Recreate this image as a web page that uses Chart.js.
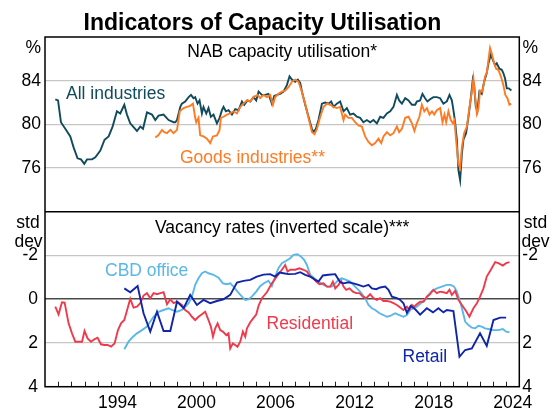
<!DOCTYPE html>
<html>
<head>
<meta charset="utf-8">
<script src="https://cdn.jsdelivr.net/npm/chart.js@4/dist/chart.umd.min.js"></script>
<style>
html,body{margin:0;padding:0;background:#fff;}
canvas{display:block;}
</style>
</head>
<body>
<canvas id="c" width="560" height="412"></canvas>
<script>
// ---------- DATA ----------
const yearLabels = ['1994', '2000', '2006', '2012', '2018', '2024'];
const topTicks = [76, 80, 84];
const bottomTicks = [-2, 0, 2, 4];

// NAB capacity utilisation, all industries (%)
const allIndDates = [1989.78,1989.99,1990.21,1990.54,1990.92,1991.17,1991.47,1991.73,1991.98,1992.19,1992.57,1992.82,1993.2,1993.52,1993.83,1994.13,1994.46,1994.71,1995.02,1995.22,1995.47,1995.98,1996.23,1996.44,1996.74,1997.12,1997.37,1997.62,1998.0,1998.38,1998.76,1998.89,1999.02,1999.27,1999.39,1999.64,1999.9,2000.08,2000.27,2000.4,2000.58,2000.73,2000.91,2001.03,2001.24,2001.41,2001.59,2001.79,2002.05,2002.25,2002.43,2002.55,2002.73,2002.93,2003.19,2003.44,2003.69,2003.95,2004.12,2004.37,2004.58,2004.83,2005.03,2005.21,2005.46,2005.71,2005.96,2006.22,2006.4,2006.6,2006.85,2007.1,2007.36,2007.56,2007.74,2007.99,2008.19,2008.37,2008.54,2008.75,2009.0,2009.26,2009.38,2009.56,2009.76,2010.02,2010.27,2010.52,2010.72,2010.9,2011.15,2011.4,2011.66,2011.91,2012.16,2012.41,2012.67,2012.92,2013.17,2013.43,2013.68,2013.93,2014.19,2014.44,2014.69,2014.95,2015.2,2015.45,2015.71,2015.88,2016.09,2016.34,2016.59,2016.85,2017.1,2017.22,2017.47,2017.65,2017.85,2018.03,2018.23,2018.48,2018.74,2018.99,2019.24,2019.5,2019.7,2019.88,2020.0,2020.13,2020.26,2020.38,2020.51,2020.64,2020.76,2020.96,2021.14,2021.32,2021.47,2021.57,2021.7,2021.82,2021.97,2022.15,2022.33,2022.53,2022.66,2022.84,2022.99,2023.17,2023.29,2023.49,2023.67,2023.79,2023.92,2024.05,2024.2,2024.4];
const allIndValues = [82.3,82.2,80.2,79.6,78.9,77.9,76.9,76.8,76.4,76.8,76.8,77.0,77.6,78.6,78.9,79.8,81.2,81.0,81.8,80.9,80.1,79.4,79.8,79.6,81.1,80.9,80.4,80.8,80.9,80.4,80.2,80.2,80.4,81.6,81.9,82.1,82.5,82.7,82.4,82.5,81.9,82.2,81.0,81.6,81.0,81.5,80.7,80.9,80.1,80.6,81.3,81.6,81.2,81.3,80.9,81.4,81.3,82.1,81.8,82.2,82.1,82.5,82.2,83.0,82.7,82.7,82.8,81.9,82.6,82.7,82.8,83.0,83.6,84.4,84.1,83.9,84.1,83.8,82.8,81.8,80.7,79.6,79.3,79.6,80.4,81.9,82.0,81.9,82.1,81.6,81.9,82.1,81.2,81.5,80.9,81.0,80.7,80.6,80.2,80.4,80.2,80.4,80.1,80.7,80.6,81.0,81.2,81.6,82.7,82.2,81.9,82.4,82.2,81.8,81.8,82.1,82.2,82.8,82.4,82.1,82.3,82.5,82.5,82.4,81.9,82.1,82.7,82.2,81.3,80.2,78.6,75.8,74.9,77.3,78.6,79.2,80.7,82.4,84.1,83.6,81.6,81.2,83.0,82.8,83.9,84.7,85.6,86.4,85.9,85.4,85.6,85.1,85.0,84.7,84.2,83.3,83.3,83.1];

// NAB capacity utilisation, goods industries (%)
const goodsDates = [1997.37,1997.6,1997.88,1998.05,1998.26,1998.51,1998.76,1999.02,1999.23,1999.52,1999.77,2000.02,2000.23,2000.4,2000.48,2000.65,2000.78,2001.03,2001.29,2001.54,2001.75,2002.05,2002.25,2002.35,2002.55,2002.81,2003.06,2003.31,2003.57,2003.82,2004.07,2004.33,2004.58,2004.83,2005.13,2005.33,2005.59,2005.84,2006.09,2006.3,2006.47,2006.72,2006.98,2007.23,2007.48,2007.74,2007.99,2008.24,2008.49,2008.75,2009.0,2009.26,2009.46,2009.64,2009.89,2010.14,2010.4,2010.65,2010.9,2011.15,2011.4,2011.66,2011.78,2012.03,2012.29,2012.54,2012.79,2013.05,2013.3,2013.55,2013.81,2014.06,2014.31,2014.52,2014.69,2014.95,2015.2,2015.45,2015.71,2015.88,2016.09,2016.34,2016.59,2016.85,2017.04,2017.22,2017.42,2017.6,2017.79,2017.99,2018.18,2018.37,2018.54,2018.74,2018.99,2019.17,2019.32,2019.45,2019.62,2019.8,2019.96,2020.08,2020.2,2020.38,2020.51,2020.64,2020.81,2021.02,2021.19,2021.4,2021.52,2021.65,2021.78,2021.9,2022.02,2022.2,2022.4,2022.53,2022.66,2022.78,2022.91,2023.09,2023.24,2023.41,2023.6,2023.79,2023.94,2024.1,2024.25,2024.38];
const goodsValues = [78.8,79.0,79.5,79.3,79.2,79.5,79.2,79.5,81.2,81.5,81.6,81.7,81.9,80.6,80.2,80.6,79.0,78.9,78.7,78.3,78.9,79.0,79.5,80.6,80.7,80.9,81.0,81.2,81.0,81.6,81.9,82.2,82.1,82.5,82.7,82.4,82.7,82.5,82.7,81.8,82.5,82.8,83.0,83.1,83.4,83.9,84.1,83.9,83.0,81.9,80.6,79.3,79.1,79.6,80.7,81.6,81.9,81.8,81.6,81.5,81.6,80.4,80.9,80.6,80.6,80.2,79.9,79.8,78.9,78.4,78.1,78.3,78.7,78.3,78.9,79.3,79.0,79.2,79.8,79.3,79.6,80.6,80.7,80.1,79.4,80.1,80.7,81.8,81.2,81.5,80.9,81.2,80.9,81.3,81.5,80.2,80.9,80.2,81.2,80.4,80.1,80.4,78.6,76.4,76.0,77.9,79.2,79.8,81.3,83.0,84.2,82.5,81.0,81.5,83.1,83.0,84.4,84.7,85.9,87.0,86.5,85.6,85.1,85.0,84.4,83.6,82.7,82.4,81.8,81.9];

// Vacancy rates, standard deviations (inverted scale)
const cbdDates = [1995.02,1995.34,1995.68,1995.98,1996.36,1996.74,1996.99,1997.24,1997.62,1998.0,1998.38,1998.64,1999.02,1999.39,1999.64,1999.9,2000.15,2000.4,2000.65,2000.91,2001.16,2001.41,2001.79,2002.17,2002.5,2002.81,2003.06,2003.31,2003.61,2003.95,2004.2,2004.45,2004.7,2005.03,2005.33,2005.59,2005.96,2006.22,2006.47,2006.72,2006.98,2007.23,2007.61,2007.86,2008.16,2008.42,2008.67,2008.88,2009.13,2009.43,2009.76,2010.14,2010.44,2010.77,2011.03,2011.28,2011.53,2011.86,2012.16,2012.54,2012.92,2013.3,2013.55,2013.81,2014.06,2014.39,2014.69,2014.95,2015.25,2015.58,2015.9,2016.21,2016.47,2016.72,2016.97,2017.22,2017.6,2017.85,2018.1,2018.37,2018.74,2019.12,2019.5,2019.8,2020.05,2020.26,2020.51,2020.71,2020.89,2021.14,2021.4,2021.65,2021.9,2022.15,2022.4,2022.66,2023.04,2023.41,2023.75,2024.0,2024.25];
const cbdValues = [2.29,1.94,1.71,1.56,1.41,1.25,1.02,0.8,0.57,0.49,0.41,0.49,0.57,0.49,0.34,0.18,-0.12,-0.66,-0.96,-1.19,-1.27,-1.19,-1.12,-0.99,-0.73,-0.69,-0.73,-0.58,-0.35,-0.12,0.03,0.0,-0.12,-0.35,-0.6,-0.72,-0.85,-0.6,-1.04,-1.42,-1.65,-1.73,-1.88,-2.03,-2.06,-1.96,-1.8,-1.57,-1.12,-0.96,-0.81,-0.66,-0.58,-0.58,-0.73,-0.89,-0.96,-0.89,-0.81,-0.58,-0.35,-0.05,0.26,0.41,0.49,0.64,0.72,0.8,0.75,0.64,0.72,0.8,0.72,0.49,0.41,0.34,0.15,0.0,-0.2,-0.38,-0.5,-0.58,-0.66,-0.66,-0.58,-0.35,0.11,0.57,1.02,1.18,1.3,1.33,1.21,1.25,1.33,1.36,1.41,1.41,1.36,1.48,1.51];

const resDates = [1989.78,1990.03,1990.29,1990.49,1990.79,1991.05,1991.3,1991.55,1991.81,1992.0,1992.23,1992.49,1992.74,1992.99,1993.25,1993.5,1993.75,1994.01,1994.28,1994.54,1994.77,1995.02,1995.27,1995.47,1995.72,1995.98,1996.23,1996.48,1996.74,1996.99,1997.24,1997.5,1997.75,1998.0,1998.26,1998.51,1998.76,1999.02,1999.39,1999.64,1999.9,2000.15,2000.4,2000.65,2000.91,2001.16,2001.41,2001.59,2001.75,2001.92,2002.1,2002.3,2002.5,2002.76,2002.93,2003.06,2003.26,2003.44,2003.61,2003.82,2004.02,2004.2,2004.33,2004.58,2004.83,2005.03,2005.21,2005.46,2005.84,2006.22,2006.6,2006.98,2007.23,2007.41,2007.61,2007.99,2008.32,2008.62,2008.88,2009.13,2009.38,2009.58,2009.83,2010.14,2010.4,2010.65,2010.85,2011.03,2011.28,2011.48,2011.66,2011.86,2012.11,2012.37,2012.62,2012.87,2013.13,2013.38,2013.68,2013.93,2014.19,2014.44,2014.69,2014.95,2015.2,2015.45,2015.71,2015.96,2016.21,2016.47,2016.66,2016.85,2017.02,2017.22,2017.47,2017.73,2017.98,2018.18,2018.48,2018.74,2018.99,2019.24,2019.5,2019.7,2019.88,2020.13,2020.38,2020.64,2020.96,2021.21,2021.52,2021.78,2022.02,2022.28,2022.53,2022.84,2023.17,2023.41,2023.75,2024.0,2024.25];
const resValues = [0.34,0.69,0.14,0.15,1.1,1.56,1.94,1.94,1.94,1.45,1.79,1.94,1.83,1.76,2.06,2.09,2.09,2.17,2.02,1.41,1.1,0.95,0.41,-0.02,0.38,0.34,0.18,-0.17,-0.28,-0.05,-0.28,-0.23,-0.28,-0.32,0.23,0.0,0.18,0.11,0.26,0.49,0.6,0.8,0.95,0.8,0.69,0.57,0.95,1.25,1.71,1.33,1.1,1.41,1.48,1.64,1.56,2.25,2.02,2.09,2.17,1.94,1.48,1.71,1.33,1.05,0.85,0.7,0.3,-0.05,-0.32,-0.73,-1.04,-1.35,-1.57,-1.27,-1.35,-1.35,-1.42,-1.35,-1.27,-1.04,-0.96,-0.81,-0.69,-0.73,-0.58,-0.58,-0.81,-0.5,-0.66,-0.84,-0.58,-0.43,-0.5,-0.35,-0.28,-0.28,-0.12,-0.05,-0.23,-0.05,0.03,-0.05,0.08,0.08,0.11,0.18,0.26,0.38,0.49,0.34,0.49,0.26,0.34,0.23,0.11,0.11,-0.12,-0.2,-0.43,-0.28,-0.35,-0.32,-0.28,-0.43,-0.2,-0.38,0.03,0.26,0.54,0.8,0.41,0.18,-0.12,-0.5,-1.04,-1.35,-1.7,-1.65,-1.54,-1.65,-1.7];

const retailDates = [1995.02,1995.47,1996.03,1996.48,1996.99,1997.5,1998.0,1998.51,1999.02,1999.52,2000.02,2000.53,2001.03,2001.54,2002.05,2002.55,2003.06,2003.57,2004.07,2004.58,2005.08,2005.59,2006.09,2006.47,2006.8,2007.1,2007.48,2007.99,2008.37,2008.75,2009.13,2009.51,2009.76,2010.09,2010.52,2011.03,2011.4,2011.66,2012.03,2012.41,2012.79,2013.17,2013.55,2013.81,2014.14,2014.44,2014.82,2015.07,2015.33,2015.71,2015.96,2016.21,2016.47,2016.75,2017.1,2017.47,2017.98,2018.45,2018.86,2019.24,2019.5,2020.0,2020.46,2020.89,2021.4,2022.02,2022.53,2023.04,2023.54,2024.0];
const retailValues = [-0.5,-0.32,-0.61,0.64,1.48,0.57,1.45,1.45,0.11,0.41,-0.2,0.26,0.03,0.18,0.08,0.0,-0.2,-0.76,-0.84,-0.89,-1.04,-1.13,-1.15,-1.04,-1.22,-1.19,-1.15,-1.16,-1.24,-1.12,-1.04,-0.89,-0.81,-1.09,-1.12,-1.15,-0.78,-0.73,-0.78,-0.73,-0.66,-0.58,-0.66,-0.5,-0.46,-0.54,-0.58,-0.43,-0.12,-0.05,0.03,0.18,0.62,0.3,0.46,0.7,0.41,0.6,0.41,0.6,0.49,0.54,2.63,2.32,2.25,1.56,2.13,0.95,0.84,0.84];

// ---------- STYLE ----------
const FONT = '"Liberation Sans", Arial, Helvetica, sans-serif';
const COL = {
  all: '#0f4b5c', goods: '#ff7a22',
  cbd: '#5ab8e8', res: '#f03a4c', retail: '#1025a8'
};
const pts = (xs, ys) => xs.map((x, i) => ({x: x, y: ys[i]}));
const lineDs = (label, xs, ys, color, axis) => ({
  label, data: pts(xs, ys), borderColor: color, backgroundColor: color,
  borderWidth: 1.9, pointRadius: 0, tension: 0, yAxisID: axis, xAxisID: 'x', fill: false
});

const gridCol = (c) => (c.tick && c.tick.value === 0) ? '#4a4a4a' : '#c6c6c6';
const gridW = (c) => (c.tick && c.tick.value === 0) ? 1.6 : 1.3;
const tickFont = {family: FONT, size: 17.5};

function yAxis(pos, stack, weight, min, max, ticks, reverse, grid, pad) {
  return {
    type: 'linear', position: pos, stack: stack, stackWeight: 1, weight: weight,
    min: min, max: max, reverse: reverse,
    afterBuildTicks: s => { s.ticks = ticks.map(v => ({value: v})); },
    afterFit: s => { s.width = pos === 'left' ? 45 : 40.7; },
    grid: grid ? {display: true, drawTicks: false, drawOnChartArea: true, color: gridCol, lineWidth: gridW}
               : {display: false, drawTicks: false},
    border: {display: false},
    ticks: {font: tickFont, color: '#000', padding: pad, autoSkip: false,
            callback: v => String(v)}
  };
}

const overlay = {
  id: 'overlay',
  afterDraw(chart) {
    const {ctx, chartArea: a, scales} = chart;
    const xs = scales.x;
    ctx.save();
    // yearly tick marks on the bottom axis (pointing into the plot)
    ctx.strokeStyle = '#222';
    ctx.lineWidth = 1;
    for (let yr = 1990; yr < 2025; yr++) {
      const px = Math.round(xs.getPixelForValue(yr)) + 0.5;
      ctx.beginPath(); ctx.moveTo(px, a.bottom); ctx.lineTo(px, a.bottom - 5); ctx.stroke();
    }
    // frame and panel divider
    ctx.strokeStyle = '#000';
    ctx.lineWidth = 1.5;
    ctx.strokeRect(a.left, a.top, a.right - a.left, a.bottom - a.top);
    const dy = scales.y.bottom;
    ctx.beginPath(); ctx.moveTo(a.left, dy); ctx.lineTo(a.right, dy); ctx.stroke();

    // title
    ctx.fillStyle = '#000';
    ctx.textBaseline = 'alphabetic';
    ctx.textAlign = 'center';
    ctx.font = 'bold 23px ' + FONT;
    ctx.fillText('Indicators of Capacity Utilisation', 262.5, 29.5);

    ctx.font = '17.5px ' + FONT;
    // panel titles
    const cx = (a.left + a.right) / 2;
    ctx.fillText('NAB capacity utilisation*', cx, 57);
    ctx.fillText('Vacancy rates (inverted scale)***', cx, 233);
    // units
    ctx.textAlign = 'right';
    ctx.fillText('%', 41, 52.5);
    ctx.textAlign = 'left';
    ctx.fillText('%', 522.5, 52.5);
    ctx.textAlign = 'center';
    ctx.fillText('std', 28, 227.5);
    ctx.fillText('dev', 28.5, 247);
    ctx.fillText('std', 535.5, 227.5);
    ctx.fillText('dev', 535.5, 247);
    // series labels
    ctx.textAlign = 'left';
    ctx.fillStyle = COL.all;   ctx.fillText('All industries', 66, 98.5);
    ctx.fillStyle = COL.goods; ctx.fillText('Goods industries**', 180, 163.3);
    ctx.fillStyle = COL.cbd;   ctx.fillText('CBD office', 105, 276);
    ctx.fillStyle = COL.res;   ctx.fillText('Residential', 266.5, 329);
    ctx.fillStyle = COL.retail;ctx.fillText('Retail', 402.5, 361.5);
    ctx.restore();
  }
};

new Chart(document.getElementById('c'), {
  type: 'line',
  data: {
    datasets: [
      lineDs('Goods industries', goodsDates, goodsValues, COL.goods, 'y'),
      lineDs('All industries', allIndDates, allIndValues, COL.all, 'y'),
      lineDs('Retail', retailDates, retailValues, COL.retail, 'y2'),
      lineDs('Residential', resDates, resValues, COL.res, 'y2'),
      lineDs('CBD office', cbdDates, cbdValues, COL.cbd, 'y2')
    ]
  },
  options: {
    responsive: false,
    animation: false,
    devicePixelRatio: 1,
    layout: {padding: {top: 37, left: 0, right: 0, bottom: 0}},
    plugins: {legend: {display: false}, title: {display: false}, tooltip: {enabled: false}},
    scales: {
      x: {
        type: 'linear', position: 'bottom', min: 1989, max: 2025,
        afterBuildTicks: s => { s.ticks = yearLabels.map(l => ({value: Number(l) + 0.5})); },
        afterFit: s => { s.height = 25.3; },
        grid: {display: false, drawTicks: false},
        border: {display: false},
        ticks: {font: tickFont, color: '#000', padding: 6, autoSkip: false, maxRotation: 0,
                callback: v => String(Math.floor(v))}
      },
      y:   yAxis('left', 'L', 2, 72, 88, topTicks, false, true, 4),
      y2:  yAxis('left', 'L', 1, -4, 4, bottomTicks, true, true, 7),
      yR:  yAxis('right', 'R', 1, 72, 88, topTicks, false, false, 3),
      y2R: yAxis('right', 'R', 2, -4, 4, bottomTicks, true, false, 3)
    }
  },
  plugins: [overlay]
});
</script>
</body>
</html>
